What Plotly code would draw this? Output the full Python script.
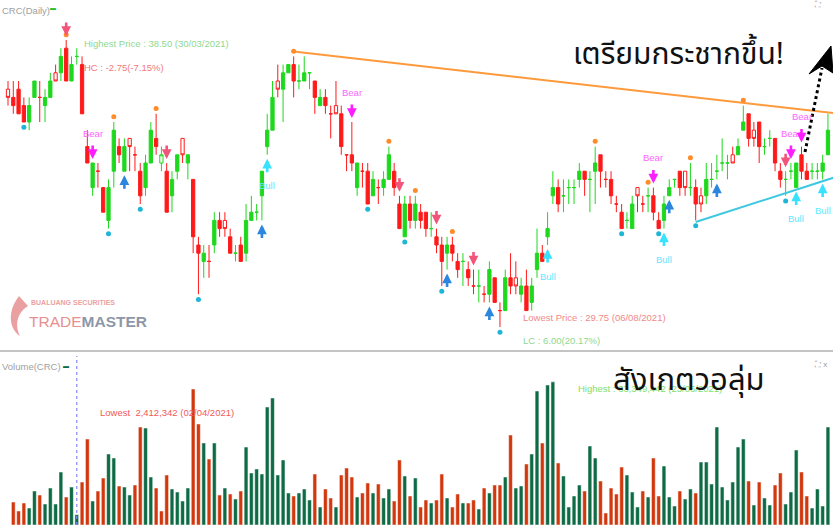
import plotly.graph_objects as go

# ---------------- data ----------------
opens = [37.0,36.75,37.0,36.5,36.0,36.75,36.75,36.5,36.75,37.5,37.5,38.25,37.25,38.0,37.75,
         35.25,34.0,34.5,34.0,33.0,34.5,35.25,34.5,35.5,35.0,34.5,34.0,34.75,35.5,34.75,
         34.5,33.75,34.5,35.5,34.75,34.25,32.25,31.75,31.75,32.25,33.0,33.0,32.5,32.0,32.25,
         32.0,33.0,33.25,33.75,35.25,35.75,37.25,37.0,37.5,37.75,37.25,37.25,37.5,37.25,36.5,
         36.75,36.25,36.5,36.25,35.0,35.0,34.0,34.5,34.5,33.75,34.0,34.0,34.25,34.5,33.5,
         32.5,33.5,33.0,33.25,33.25,32.75,32.5,32.25,32.0,32.25,31.75,31.75,31.5,31.0,31.0,
         30.75,30.75,31.25,30.25,30.25,31.25,31.25,30.75,31.0,30.5,31.5,32.0,32.5,33.75,34.0,
         33.75,34.0,34.0,34.25,34.5,34.25,34.5,35.0,34.25,34.25,33.5,33.25,33.0,32.75,34.0,
         33.5,33.75,33.75,33.0,33.0,33.75,34.25,34.5,34.5,34.0,34.0,33.75,33.75,34.25,34.5,
         34.75,34.75,35.0,35.0,35.75,36.25,35.75,36.0,35.25,35.5,35.5,34.5,34.25,34.5,34.0,
         35.0,34.5,34.5,34.5,34.5,35.0]
highs = [37.25,37.25,37.25,36.75,36.75,37.25,37.25,37.0,37.5,37.75,38.25,38.5,38.0,38.25,38.0,
         35.75,34.75,34.75,34.0,34.25,36.0,35.5,35.5,35.5,35.25,34.75,35.0,36.0,36.25,35.25,
         34.75,34.5,35.0,35.5,35.0,34.25,32.5,32.25,32.25,33.25,33.25,33.25,32.75,32.25,32.5,
         33.5,33.75,33.5,34.5,36.25,37.25,37.75,37.75,37.75,38.0,37.75,38.0,37.5,37.25,37.0,
         37.0,36.5,37.25,36.5,35.0,36.0,34.75,34.75,34.75,34.5,34.25,34.5,35.25,34.75,33.75,
         33.75,33.75,33.75,33.5,33.25,33.25,32.75,32.5,32.5,32.5,32.0,32.0,31.75,31.5,31.5,
         31.0,31.75,31.25,30.5,31.5,32.0,31.75,31.25,31.5,31.25,32.75,32.25,33.25,34.5,34.25,
         34.25,34.25,34.25,34.75,34.5,34.5,35.25,35.0,34.5,34.5,33.75,33.5,33.25,33.75,34.0,
         33.75,34.0,34.0,33.25,33.75,34.25,34.25,34.5,34.5,34.75,34.25,34.0,34.75,34.75,35.0,
         35.5,35.0,35.25,35.5,36.5,36.25,36.0,36.0,35.5,35.75,35.5,34.75,34.5,34.75,34.75,
         35.25,34.75,34.75,34.75,35.0,36.25]
lows = [36.5,36.25,36.25,36.0,35.75,36.75,36.0,36.0,36.75,37.25,37.25,37.25,37.25,37.75,36.25,
        34.75,33.75,34.0,33.25,32.75,34.0,34.75,34.5,34.5,34.5,33.5,33.75,34.75,35.0,34.5,
        33.25,33.25,34.25,34.75,34.25,32.0,30.75,31.25,31.25,32.0,32.5,32.5,32.0,31.75,31.75,
        31.75,33.0,33.0,33.0,35.0,35.75,36.75,36.0,37.5,36.75,37.0,37.25,37.0,36.25,36.5,
        36.25,35.5,36.25,35.0,34.5,34.5,33.75,34.0,33.5,33.75,33.5,33.75,34.25,33.75,32.75,
        32.5,32.75,32.75,32.75,32.5,32.5,32.0,31.0,31.5,31.75,31.25,31.0,31.0,30.75,30.5,
        30.5,30.5,30.5,29.75,30.25,30.75,30.75,30.5,30.25,30.25,31.25,31.75,32.25,33.5,33.25,
        33.25,33.5,33.5,34.0,33.75,33.25,33.5,34.0,34.0,33.5,33.25,32.75,32.75,32.75,33.25,
        33.25,33.25,33.0,32.75,32.75,33.75,34.0,33.75,33.75,33.75,33.0,33.25,33.5,34.0,34.25,
        34.5,34.25,34.75,35.0,35.75,35.25,35.25,34.75,35.0,35.25,34.5,34.0,33.75,34.25,34.0,
        34.25,34.25,34.25,34.25,34.25,35.0]
closes = [36.75,36.5,36.25,36.0,36.5,37.25,36.75,36.75,37.25,37.25,38.0,37.25,37.75,38.0,36.25,
          34.75,34.75,34.5,33.25,34.0,35.75,35.0,35.25,35.25,35.0,33.75,34.75,35.75,35.25,35.0,
          33.25,34.25,35.0,35.0,35.0,32.5,32.0,32.0,31.75,33.0,32.75,32.75,32.0,32.0,31.75,
          33.0,33.25,33.25,34.5,35.75,36.75,37.0,37.5,37.75,37.25,37.25,37.5,37.5,36.75,36.75,
          36.5,36.25,36.25,35.25,35.0,34.75,34.75,34.5,33.5,34.25,34.0,34.25,35.0,34.0,32.75,
          33.5,33.0,33.5,33.0,32.75,32.75,32.25,31.75,32.25,32.0,31.5,31.75,31.25,31.0,31.0,
          30.75,31.5,30.5,30.25,31.25,31.0,31.0,31.0,30.25,31.0,32.0,31.75,32.75,34.0,33.5,
          33.75,34.0,34.0,34.5,34.25,34.25,34.75,34.5,34.25,33.75,33.5,32.75,33.0,33.5,33.75,
          33.5,33.75,33.25,32.75,33.5,34.0,34.25,34.0,34.0,34.0,33.5,33.5,34.25,34.25,34.5,
          34.75,34.75,34.75,35.25,36.0,35.5,35.5,35.25,35.25,35.5,34.75,34.25,34.25,34.5,34.75,
          34.5,34.25,34.5,34.5,34.75,35.75]
# volume in millions of shares (first session has no visible bar)
volume_m = [None,
    5.36,3.26,5.13,3.96,7.92,6.99,4.89,8.62,4.89,12.35,6.52,8.85,2.41,10.02,20.04,5.59,7.92,10.95,
    16.54,15.61,9.09,8.85,6.99,9.32,22.83,22.60,11.18,8.62,3.26,11.65,8.39,7.69,5.59,8.62,31.69,
    23.53,19.11,15.38,19.11,6.99,8.62,7.22,6.06,7.92,18.17,12.12,13.05,11.88,27.49,29.59,11.65,
    15.15,7.46,6.76,7.46,8.39,5.83,11.88,4.19,8.39,6.29,4.19,11.65,13.28,11.18,6.52,7.46,9.79,
    7.46,9.55,6.29,8.39,5.59,15.15,11.42,6.76,10.95,
    4.19,5.83,5.13,5.83,11.88,6.29,4.19,7.22,5.13,5.13,5.83,3.73,8.62,7.46,9.32,9.32,11.18,
    20.97,8.62,9.09,14.21,16.54,31.22,19.11,32.62,33.35,14.45,11.42,4.19,6.76,9.32,7.92,18.41,
    15.61,10.25,2.80,8.62,7.22,13.51,11.65,7.69,4.19,7.92,6.52,15.61,6.76,13.75,6.52,4.43,
    7.92,6.06,8.39,7.46,14.68,14.68,9.55,22.83,8.85,5.83,10.02,18.17,20.04,10.25,4.66,10.02,
    6.29,4.66,9.32,12.12,4.89,7.69,17.48,12.35,6.76,3.96,8.39,4.43,22.83]

pivot_high_idx = [11, 20, 28, 54, 72, 77, 84, 111, 121, 129, 139]
pivot_low_idx = [3, 19, 25, 36, 68, 75, 82, 93, 116, 123, 130, 147]
sell_idx = [11, 30, 74, 81, 88, 147]
bear_idx = [16, 65, 122, 148, 150]
buy_idx = [22, 48, 83, 91, 125, 134]
bull_idx = [49, 102, 124, 149, 154]
resist_idx, resist_price = [54, 156], [38.15, 36.27]
support_idx, support_price = [130, 156], [32.95, 34.30]

# ---------------- figure ----------------
W, H = 833, 525
def PX(x): return x / W
def PY(y): return 1 - y / H

n = len(closes)
idx = list(range(n))
prev = [closes[0]] + closes[:-1]
up = [(c > o) or (c == o and c >= p) for o, c, p in zip(opens, closes, prev)]
filled = [u == (c >= p) for u, c, p in zip(up, closes, prev)]

GREEN, RED = "#1ed81e", "#ff1a1a"
fig = go.Figure()
for is_up in (True, False):
    for is_filled in (True, False):
        sel = [i for i in idx if up[i] == is_up and filled[i] == is_filled]
        col = GREEN if is_up else RED
        fill = col if is_filled else "white"
        fig.add_trace(go.Candlestick(
            x=sel, open=[opens[i] for i in sel], high=[highs[i] for i in sel],
            low=[lows[i] for i in sel], close=[closes[i] for i in sel],
            increasing=dict(line=dict(color=col, width=1), fillcolor=fill),
            decreasing=dict(line=dict(color=col, width=1), fillcolor=fill),
            whiskerwidth=0, showlegend=False, hoverinfo="skip"))

# trend lines
fig.add_trace(go.Scatter(x=resist_idx, y=resist_price, mode="lines",
                         line=dict(color="#ff9a3c", width=2), showlegend=False, hoverinfo="skip"))
fig.add_trace(go.Scatter(x=support_idx, y=support_price, mode="lines",
                         line=dict(color="#3cc8e0", width=2), showlegend=False, hoverinfo="skip"))

# pivot dots
DOT_OFF = 0.16
fig.add_trace(go.Scatter(x=pivot_high_idx, y=[highs[i] + DOT_OFF for i in pivot_high_idx],
                         mode="markers", marker=dict(color="#ff8c28", size=5),
                         showlegend=False, hoverinfo="skip"))
fig.add_trace(go.Scatter(x=pivot_low_idx, y=[lows[i] - DOT_OFF for i in pivot_low_idx],
                         mode="markers", marker=dict(color="#1fb5d6", size=5),
                         showlegend=False, hoverinfo="skip"))

# volume
vcol = ["#0d6b45" if c >= p else "#d2380e" for c, p in zip(closes, prev)]
fig.add_trace(go.Bar(x=idx, y=volume_m, marker=dict(color=vcol, line=dict(color="white", width=0.5)),
                     width=0.72, xaxis="x2", yaxis="y2", showlegend=False, hoverinfo="skip"))

NARROW = "Liberation Sans Narrow, Arial Narrow, Liberation Sans, sans-serif"
THAI = "Noto Sans Thai, Noto Sans Thai UI, Loma, Garuda, Tlwg Typo, Noto Sans, sans-serif"

ann = []
def arrow(i, down, color, label=None, lcolor=None):
    y = highs[i] if down else lows[i]
    ann.append(dict(x=i, y=y, xref="x", yref="y", text="", showarrow=True,
                    ax=0, ay=-19 if down else 19, standoff=4, arrowhead=2,
                    arrowsize=0.75, arrowwidth=2.6, arrowcolor=color))
    if label:
        ann.append(dict(x=i, y=y, xref="x", yref="y", text=label, showarrow=False,
                        yshift=30 if down else -31,
                        font=dict(size=9.5, color=lcolor, family=NARROW)))

for i in sell_idx: arrow(i, True, "#f2557a")
for i in bear_idx: arrow(i, True, "#ff1eff", "Bear", "#ff66ff")
for i in buy_idx: arrow(i, False, "#2a86de")
for i in bull_idx: arrow(i, False, "#38e2ff", "Bull", "#5ee8ff")

def txt(x, y, s, color, size=9.5, family=NARROW, anchor="left"):
    ann.append(dict(x=PX(x), y=PY(y), xref="paper", yref="paper", text=s, showarrow=False,
                    xanchor=anchor, yanchor="middle", font=dict(size=size, color=color, family=family)))

txt(0, 10, "CRC(Daily)", "#a0a0a0", 9.5)
txt(48, 8, "▬", "#22c022", 6)
txt(82, 43, "Highest Price : 38.50 (30/03/2021)", "#8fd88f")
txt(82, 67, "HC : -2.75(-7.15%)", "#f07a7a")
txt(521, 317, "Lowest Price : 29.75 (06/08/2021)", "#f08a8a")
txt(521, 340, "LC : 6.00(20.17%)", "#8fd88f")
txt(0, 366, "Volume(CRC)", "#a0a0a0", 9.5)
txt(61, 366, "▬", "#0d6b45", 6)
txt(98, 412, "Lowest  2,412,342 (02/04/2021)", "#f05a5a")
txt(576, 388, "Highest : 33,349,442 (23/06/2021)", "#7fe06a")
txt(571, 55, "เตรียมกระชากขึ้น!", "#111111", 30, THAI)
txt(611, 380, "สังเกตวอลุ่ม", "#111111", 31, THAI)
txt(812, 5, "⛶", "#9a9a9a", 8)
txt(812, 364, "⛶ x", "#9a9a9a", 8)
# watermark
txt(29, 302, "<b>BUALUANG SECURITIES</b>", "#eaa2a2", 7)
txt(27, 321, "<span style='color:#e88f8f'>TRADE</span><b><span style='color:#8e97a8'>MASTER</span></b>",
    "#e88f8f", 15.5)

shapes = [
    dict(type="line", xref="paper", yref="paper", x0=0, x1=1, y0=PY(351), y1=PY(351),
         line=dict(color="#c4c4c4", width=2)),
    dict(type="line", xref="paper", yref="paper", x0=PX(805), y0=PY(152), x1=PX(822), y1=PY(68),
         line=dict(color="black", width=3, dash="dot")),
    dict(type="path", xref="paper", yref="paper",
         path=f"M {PX(831)} {PY(46)} L {PX(809)} {PY(74)} L {PX(822)} {PY(66)} L {PX(833)} {PY(73)} Z",
         fillcolor="black", line=dict(color="black", width=1)),
    dict(type="path", xref="paper", yref="paper",
         path=f"M {PX(19)} {PY(296)} C {PX(8)} {PY(310)} {PX(8)} {PY(328)} {PX(20)} {PY(336)} "
              f"C {PX(14)} {PY(324)} {PX(18)} {PY(312)} {PX(28)} {PY(306)} Z",
         fillcolor="#eaa0a0", line=dict(width=0)),
]
lo_i = min((i for i in idx if volume_m[i] is not None), key=lambda i: volume_m[i])
shapes.append(dict(type="line", xref="x2", yref="paper", x0=lo_i, x1=lo_i, y0=0, y1=PY(356),
                   line=dict(color="#8888ff", width=1.2, dash="dot")))

y_top = 38.5 + 40 / 32.8
y_bot = 38.5 - 310 / 32.8
x_lo = -8 / 5.29
x_hi = x_lo + W / 5.29
fig.update_layout(
    width=W, height=H, margin=dict(l=0, r=0, t=0, b=0),
    paper_bgcolor="white", plot_bgcolor="white",
    xaxis=dict(domain=[0, 1], range=[x_lo, x_hi], visible=False, rangeslider=dict(visible=False), anchor="y"),
    yaxis=dict(domain=[PY(350), 1], range=[y_bot, y_top], visible=False),
    xaxis2=dict(domain=[0, 1], range=[x_lo, x_hi], visible=False, anchor="y2", matches="x"),
    yaxis2=dict(domain=[0, PY(355)], range=[0, (H - 355) * 0.233], visible=False),
    annotations=ann, shapes=shapes, bargap=0.3, boxgap=0.12,
)
fig.write_html("out.html", config={"displayModeBar": False},
               post_script="document.body.style.margin='0';document.body.style.overflow='hidden';")
